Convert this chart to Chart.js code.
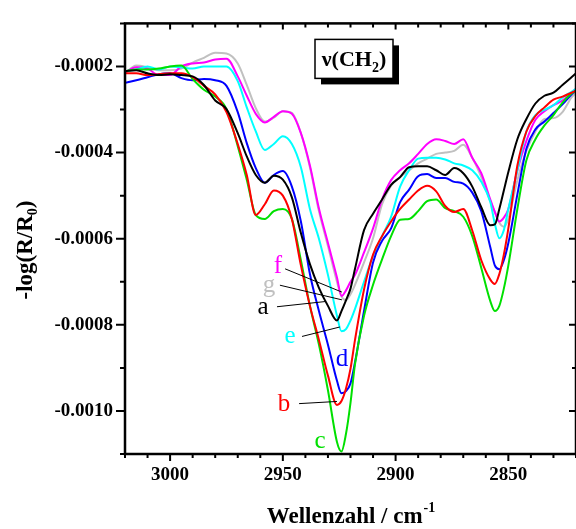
<!DOCTYPE html>
<html>
<head>
<meta charset="utf-8">
<script src="https://cdn.jsdelivr.net/npm/chart.js@4.4.1/dist/chart.umd.min.js"></script>
<style>
  html, body { margin: 0; padding: 0; background: #fff; }
  canvas { display: block; }
</style>
</head>
<body>
<canvas id="spectrum" width="576" height="529"></canvas>
<script>
// Wavenumbers (cm^-1) shared by the seven spectra
const wavenumbers = [
  3020, 3015, 3010, 3005, 3000, 2995, 2990, 2985, 2980, 2975,
  2970, 2966, 2962, 2958, 2954, 2950, 2946, 2942, 2938, 2934,
  2930, 2926, 2924, 2922, 2920, 2918, 2914, 2910, 2906, 2902,
  2898, 2894, 2890, 2886, 2882, 2878, 2874, 2870, 2866, 2862,
  2858, 2856, 2854, 2852, 2850, 2846, 2842, 2838, 2834, 2830,
  2826, 2822, 2820,
];

// -log(R/R0), in units of 1e-4
const curveA = [
  -2.11, -2.09, -2.16, -2.20, -2.18, -2.20, -2.23, -2.43, -2.79, -2.99,
  -3.55, -4.09, -4.52, -4.70, -4.54, -4.63, -5.04, -5.87, -6.59, -7.14,
  -7.56, -7.90, -7.68, -7.43, -7.16, -6.70, -5.80, -5.42, -5.09, -4.75,
  -4.57, -4.34, -4.32, -4.32, -4.41, -4.52, -4.36, -4.48, -4.79, -5.27,
  -5.69, -5.67, -5.31, -4.88, -4.45, -3.69, -3.22, -2.86, -2.68, -2.61,
  -2.43, -2.25, -2.16,
];
const curveB = [
  -2.16, -2.16, -2.20, -2.18, -2.16, -2.16, -2.25, -2.45, -2.65, -3.06,
  -3.80, -4.52, -5.45, -5.20, -4.88, -5.00, -5.54, -6.62, -7.56, -8.35,
  -9.18, -9.86, -9.77, -9.48, -9.02, -8.35, -7.18, -6.37, -5.94, -5.60,
  -5.31, -5.09, -4.88, -4.77, -4.90, -5.24, -5.38, -5.31, -5.81, -6.50,
  -6.95, -7.05, -6.82, -6.37, -5.76, -4.30, -3.51, -3.15, -2.95, -2.77,
  -2.70, -2.61, -2.56,
];
const curveC = [
  -2.11, -2.07, -2.07, -2.05, -2.00, -1.98, -2.29, -2.54, -2.70, -2.99,
  -3.85, -4.63, -5.45, -5.54, -5.36, -5.31, -5.54, -6.50, -7.56, -8.46,
  -9.52, -10.72, -10.94, -10.53, -9.81, -8.91, -7.79, -7.07, -6.48, -5.94,
  -5.56, -5.54, -5.36, -5.13, -5.09, -5.29, -5.36, -5.49, -5.94, -6.68,
  -7.45, -7.68, -7.56, -7.16, -6.62, -5.31, -4.18, -3.69, -3.37, -3.13,
  -2.84, -2.63, -2.56,
];
const curveD = [
  -2.38, -2.32, -2.25, -2.18, -2.16, -2.27, -2.32, -2.29, -2.32, -2.45,
  -3.06, -3.78, -4.36, -4.70, -4.52, -4.43, -4.79, -5.60, -6.82, -7.68,
  -8.46, -9.30, -9.59, -9.54, -9.36, -8.87, -7.68, -6.55, -6.05, -5.76,
  -5.15, -4.86, -4.55, -4.50, -4.59, -4.59, -4.68, -4.72, -4.93, -5.36,
  -6.20, -6.62, -6.71, -6.50, -6.10, -4.97, -3.91, -3.46, -3.28, -3.08,
  -2.88, -2.65, -2.56,
];
const curveE = [
  -2.11, -2.07, -2.00, -2.07, -2.00, -2.02, -2.05, -2.00, -2.00, -2.00,
  -2.34, -2.95, -3.51, -3.94, -3.80, -3.62, -3.80, -4.34, -5.31, -6.00,
  -6.84, -7.79, -8.15, -8.10, -7.90, -7.63, -7.00, -6.40, -5.94, -5.49,
  -4.79, -4.41, -4.14, -4.12, -4.12, -4.16, -4.25, -4.30, -4.41, -4.68,
  -5.15, -5.65, -5.99, -5.80, -5.31, -4.41, -3.51, -3.13, -3.01, -2.90,
  -2.72, -2.59, -2.52,
];
const curveF = [
  -2.14, -2.02, -2.05, -2.20, -2.20, -2.00, -1.93, -1.91, -1.84, -1.82,
  -2.23, -2.68, -3.10, -3.30, -3.17, -3.04, -3.10, -3.55, -4.30, -5.30,
  -6.10, -6.90, -7.33, -7.20, -7.00, -6.84, -6.32, -5.76, -5.09, -4.64,
  -4.41, -4.25, -4.03, -3.80, -3.69, -3.73, -3.80, -3.69, -4.12, -4.48,
  -5.09, -5.38, -5.60, -5.51, -5.31, -4.41, -3.73, -3.24, -3.04, -2.90,
  -2.79, -2.61, -2.52,
];
const curveG = [
  -2.16, -1.98, -2.02, -2.09, -2.09, -2.05, -1.91, -1.80, -1.68, -1.70,
  -1.93, -2.43, -2.97, -3.28, -3.19, -3.04, -3.08, -3.55, -4.34, -5.36,
  -6.17, -7.00, -7.34, -7.43, -7.29, -7.07, -6.55, -5.99, -5.20, -4.77,
  -4.57, -4.41, -4.25, -4.14, -4.03, -4.00, -3.96, -3.82, -4.12, -4.57,
  -5.13, -5.38, -5.63, -5.72, -5.54, -4.64, -3.96, -3.51, -3.22, -3.20,
  -3.06, -2.72, -2.61,
];

const curveNames = ['a', 'b', 'c', 'd', 'e', 'f', 'g'];
const curveValues = [curveA, curveB, curveC, curveD, curveE, curveF, curveG];
const curveColors = ['#000000', '#ff0000', '#00e000', '#0000ff', '#00ffff', '#ff00ff', '#c0c0c0'];

const xTickValues = [3000, 2950, 2900, 2850];
const yTickValues = [-0.0010, -0.0008, -0.0006, -0.0004, -0.0002];

// curve letters: [wavenumber, value (1e-4)] of the letter's baseline centre
const letterAnchors = {
  f: [2952.2, -6.79], g: [2956.1, -7.24], a: [2958.8, -7.76], e: [2946.8, -8.43],
  d: [2923.8, -8.95], b: [2949.5, -9.99], c: [2933.5, -10.86],
};
// leader lines from letter to curve: [x1, y1, x2, y2]
const leaderLines = [
  [2949.0, -6.70, 2923.8, -7.24],
  [2951.3, -7.08, 2923.8, -7.42],
  [2952.6, -7.58, 2931.3, -7.46],
  [2941.5, -8.27, 2924.7, -8.05],
  [2942.8, -9.83, 2926.0, -9.78],
];

const SERIF = '"Liberation Serif", "Times New Roman", serif';
const UNIT = 1e-4;

function toPx(chart, x, y) {
  return [chart.scales.x.getPixelForValue(x), chart.scales.y.getPixelForValue(y * UNIT)];
}

// ticks on all four sides: outward on left/bottom, inward on top/right
function drawFrameTicks(chart) {
  const { ctx, chartArea: ca, scales } = chart;
  ctx.strokeStyle = '#000';
  ctx.lineWidth = 2;
  ctx.beginPath();
  for (let w = 3020; w >= 2820; w -= 10) {
    const px = scales.x.getPixelForValue(w);
    const major = w % 50 === 0;
    ctx.moveTo(px, ca.bottom); ctx.lineTo(px, ca.bottom + (major ? 7 : 4));
    ctx.moveTo(px, ca.top); ctx.lineTo(px, ca.top + (major ? 6 : 4));
  }
  for (let k = -11; k <= -1; k++) {
    const py = scales.y.getPixelForValue(k * UNIT);
    const major = k % 2 === 0;
    ctx.moveTo(ca.left, py); ctx.lineTo(ca.left - (major ? 9 : 5), py);
    ctx.moveTo(ca.right, py); ctx.lineTo(ca.right - (major ? 7 : 4), py);
  }
  ctx.stroke();
  ctx.lineWidth = 2.5;
  ctx.strokeRect(ca.left, ca.top, ca.right - ca.left, ca.bottom - ca.top);
}

function drawTitles(chart) {
  const { ctx, chartArea: ca } = chart;
  ctx.fillStyle = '#000';
  ctx.textBaseline = 'alphabetic';
  ctx.textAlign = 'left';

  // x title with superscript
  const big = `bold 23px ${SERIF}`;
  const small = `bold 14px ${SERIF}`;
  const xMain = 'Wellenzahl / cm';
  ctx.font = big;
  const wMain = ctx.measureText(xMain).width;
  ctx.font = small;
  const wSup = ctx.measureText('-1').width;
  let x0 = (ca.left + ca.right) / 2 - (wMain + wSup) / 2;
  ctx.font = big;
  ctx.fillText(xMain, x0, 523);
  ctx.font = small;
  ctx.fillText('-1', x0 + wMain + 1, 512);

  // y title, rotated, with subscript
  ctx.save();
  ctx.translate(32, 250);
  ctx.rotate(-Math.PI / 2);
  ctx.font = big;
  const p1 = '-log(R/R';
  const w1 = ctx.measureText(p1).width;
  const w3 = ctx.measureText(')').width;
  ctx.font = small;
  const w2 = ctx.measureText('0').width;
  let s = -(w1 + w2 + w3) / 2;
  ctx.font = big;
  ctx.fillText(p1, s, 0);
  ctx.font = small;
  ctx.fillText('0', s + w1, 5);
  ctx.font = big;
  ctx.fillText(')', s + w1 + w2, 0);
  ctx.restore();
}

function drawNuBox(chart) {
  const { ctx, chartArea: ca } = chart;
  const bx = ca.left + 190, by = ca.top + 16, bw = 78, bh = 39;
  ctx.fillStyle = '#000';
  ctx.fillRect(bx + 6, by + 6, bw, bh);
  ctx.fillStyle = '#fff';
  ctx.fillRect(bx, by, bw, bh);
  ctx.strokeStyle = '#000';
  ctx.lineWidth = 1.5;
  ctx.strokeRect(bx, by, bw, bh);

  ctx.fillStyle = '#000';
  ctx.textAlign = 'left';
  ctx.textBaseline = 'alphabetic';
  const big = `bold 22px ${SERIF}`;
  const small = `bold 14px ${SERIF}`;
  ctx.font = big;
  const w1 = ctx.measureText('\u03bd(CH').width;
  const w3 = ctx.measureText(')').width;
  ctx.font = small;
  const w2 = ctx.measureText('2').width;
  let s = bx + bw / 2 - (w1 + w2 + w3) / 2;
  ctx.font = big;
  ctx.fillText('\u03bd(CH', s, by + 27);
  ctx.font = small;
  ctx.fillText('2', s + w1, by + 33);
  ctx.font = big;
  ctx.fillText(')', s + w1 + w2, by + 27);
}

function drawLetters(chart) {
  const { ctx } = chart;
  ctx.strokeStyle = '#000';
  ctx.lineWidth = 1;
  ctx.beginPath();
  for (const [x1, y1, x2, y2] of leaderLines) {
    const [a, b] = toPx(chart, x1, y1);
    const [c, d] = toPx(chart, x2, y2);
    ctx.moveTo(a, b);
    ctx.lineTo(c, d);
  }
  ctx.stroke();

  ctx.font = `25px ${SERIF}`;
  ctx.textAlign = 'center';
  ctx.textBaseline = 'alphabetic';
  curveNames.forEach((name, i) => {
    const [px, py] = toPx(chart, ...letterAnchors[name]);
    ctx.fillStyle = curveColors[i];
    ctx.fillText(name, px, py);
  });
}

const decorations = {
  id: 'decorations',
  afterDatasetsDraw(chart) {
    const ctx = chart.ctx;
    ctx.save();
    drawLetters(chart);
    drawNuBox(chart);
    ctx.restore();
  },
  afterDraw(chart) {
    const ctx = chart.ctx;
    ctx.save();
    drawFrameTicks(chart);
    drawTitles(chart);
    ctx.restore();
  },
};

const datasets = curveValues.map((vals, i) => ({
  label: curveNames[i],
  data: wavenumbers.map((w, j) => ({ x: w, y: vals[j] * UNIT })),
  borderColor: curveColors[i],
  borderWidth: 2,
  pointRadius: 0,
  cubicInterpolationMode: 'monotone',
  fill: false,
}));

new Chart(document.getElementById('spectrum'), {
  type: 'line',
  data: { datasets },
  options: {
    responsive: false,
    animation: false,
    events: [],
    layout: { padding: { top: 10, right: 0, left: 0, bottom: 0 } },
    plugins: { legend: { display: false }, tooltip: { enabled: false } },
    scales: {
      x: {
        type: 'linear',
        reverse: true,
        min: 2820,
        max: 3020,
        afterBuildTicks: (s) => { s.ticks = xTickValues.map((v) => ({ value: v })); },
        afterFit: (s) => { s.height = 75; },
        grid: { display: false, drawTicks: false },
        border: { display: false },
        ticks: {
          padding: 10,
          maxRotation: 0,
          color: '#000',
          font: { family: SERIF, size: 19, weight: 'bold' },
          callback: (v) => String(v),
        },
      },
      y: {
        type: 'linear',
        min: -0.0011,
        max: -0.0001,
        afterBuildTicks: (s) => { s.ticks = yTickValues.map((v) => ({ value: v })); },
        afterFit: (s) => { s.width = 125; },
        grid: { display: false, drawTicks: false },
        border: { display: false },
        ticks: {
          padding: 12,
          color: '#000',
          font: { family: SERIF, size: 19, weight: 'bold' },
          callback: (v) => v.toFixed(4),
        },
      },
    },
  },
  plugins: [decorations],
});
</script>
</body>
</html>
